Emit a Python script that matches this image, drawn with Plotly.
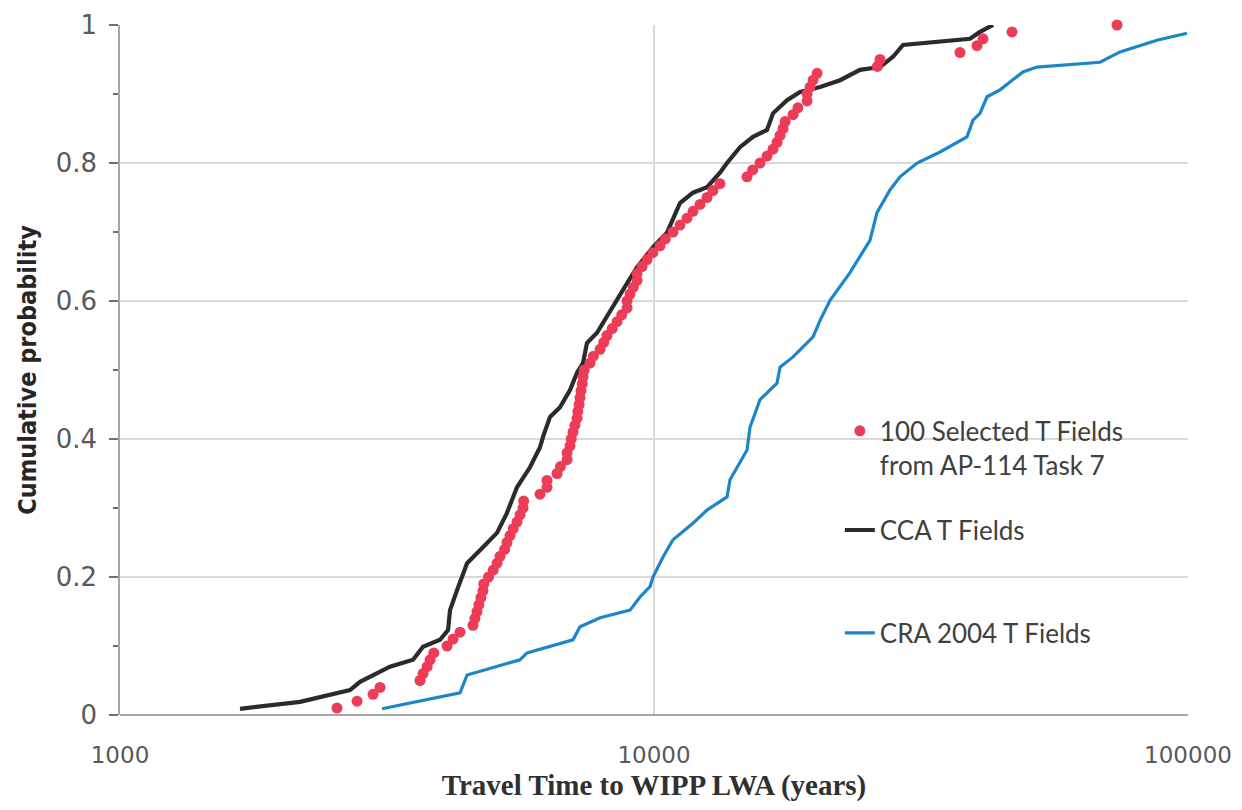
import plotly.graph_objects as go

# ---- data ----
cca_time = [1678, 2173, 2696, 2815, 3203, 3538, 3694, 3975, 4114, 4150, 4277, 4466,
            4783, 5082, 5305, 5539, 5858, 6117, 6197, 6387, 6668, 6962, 7175, 7362,
            7490, 7822, 8750, 9294, 9957, 10576, 11186, 11830, 12571, 13291, 13701,
            14488, 15325, 16280, 16706, 17749, 18771, 20466, 22306, 24306, 26496,
            28027, 29263, 32877, 39063, 40786, 43143]
cca_prob = [0.009, 0.019, 0.036, 0.048, 0.070, 0.080, 0.099, 0.109, 0.123, 0.152, 0.181, 0.220,
            0.243, 0.264, 0.293, 0.330, 0.359, 0.388, 0.403, 0.432, 0.446, 0.471, 0.496, 0.510,
            0.539, 0.554, 0.616, 0.649, 0.678, 0.699, 0.742, 0.757, 0.765, 0.786, 0.800,
            0.823, 0.838, 0.848, 0.872, 0.891, 0.903, 0.910, 0.920, 0.935, 0.939,
            0.954, 0.971, 0.975, 0.980, 0.990, 1.000]

cra_time = [3095, 4333, 4466, 5148, 5611, 5783, 7053, 7268, 7924, 9020, 9415, 9829, 9957,
            10396, 10854, 11830, 12571, 13701, 13879, 14935, 15128, 15795, 16996, 17219,
            18212, 19855, 20466, 21368, 23282, 25376, 26155, 27664, 28886, 31087, 34328,
            38557, 39570, 40786, 42042, 44460, 49090, 52130, 68420, 74600, 87480, 99560]
cra_prob = [0.009, 0.032, 0.058, 0.072, 0.080, 0.090, 0.109, 0.128, 0.141, 0.152, 0.171, 0.186, 0.200,
            0.229, 0.254, 0.278, 0.297, 0.316, 0.341, 0.384, 0.417, 0.457, 0.481, 0.504,
            0.519, 0.548, 0.572, 0.601, 0.641, 0.688, 0.728, 0.761, 0.780, 0.800, 0.816,
            0.838, 0.862, 0.872, 0.896, 0.906, 0.932, 0.939, 0.946, 0.961, 0.978, 0.988]

sel_time = [2549, 2779, 2977, 3069, 3646, 3694, 3760, 3807, 3870, 4097,
            4204, 4333, 4581, 4620, 4661, 4700, 4740, 4783, 4800, 4900,
            5000, 5082, 5148, 5250, 5305, 5374, 5450, 5539, 5611, 5685,
            5700, 6117, 6304, 6304, 6583, 6680, 6873, 6873, 6962, 7000,
            7053, 7110, 7175, 7200, 7240, 7268, 7300, 7340, 7362, 7400,
            7588, 7700, 7924, 8050, 8166, 8350, 8526, 8700, 8903, 8903,
            9020, 9150, 9294, 9294, 9500, 9703, 9950, 10262, 10500, 10854,
            11186, 11529, 11830, 12194, 12571, 12891, 13291, 14935, 15300, 15795,
            16280, 16706, 17000, 17219, 17444, 17600, 18212, 18600, 19347, 19347,
            19600, 19855, 20200, 26200, 26500, 37411, 40260, 41317, 46810, 73620]
sel_prob = [0.01, 0.02, 0.03, 0.04, 0.05, 0.06, 0.07, 0.08, 0.09, 0.10,
            0.11, 0.12, 0.13, 0.14, 0.15, 0.16, 0.17, 0.18, 0.19, 0.20,
            0.21, 0.22, 0.23, 0.24, 0.25, 0.26, 0.27, 0.28, 0.29, 0.30,
            0.31, 0.32, 0.33, 0.34, 0.35, 0.36, 0.37, 0.38, 0.39, 0.40,
            0.41, 0.42, 0.43, 0.44, 0.45, 0.46, 0.47, 0.48, 0.49, 0.50,
            0.51, 0.52, 0.53, 0.54, 0.55, 0.56, 0.57, 0.58, 0.59, 0.60,
            0.61, 0.62, 0.63, 0.64, 0.65, 0.66, 0.67, 0.68, 0.69, 0.70,
            0.71, 0.72, 0.73, 0.74, 0.75, 0.76, 0.77, 0.78, 0.79, 0.80,
            0.81, 0.82, 0.83, 0.84, 0.85, 0.86, 0.87, 0.88, 0.89, 0.90,
            0.91, 0.92, 0.93, 0.94, 0.95, 0.96, 0.97, 0.98, 0.99, 1.00]

x_ticks = [1000, 10000, 100000]
x_tick_labels = ["1000", "10000", "100000"]
y_ticks = [0, 0.2, 0.4, 0.6, 0.8, 1]
y_tick_labels = ["0", "0.2", "0.4", "0.6", "0.8", "1"]

names = ["100 Selected T Fields<br>from AP-114 Task 7", "CCA T Fields", "CRA 2004 T Fields"]

# ---- figure ----
fig = go.Figure()
fig.add_trace(go.Scatter(x=cra_time, y=cra_prob, mode="lines", name=names[2],
                         line=dict(color="#1C86C9", width=3.2), cliponaxis=False,
                         legend="legend3", showlegend=True))
fig.add_trace(go.Scatter(x=cca_time, y=cca_prob, mode="lines", name=names[1],
                         line=dict(color="#2B2B2B", width=4.2), cliponaxis=False,
                         legend="legend2", showlegend=True))
fig.add_trace(go.Scatter(x=sel_time, y=sel_prob, mode="markers", name=names[0],
                         marker=dict(color="#EC3C57", size=11), cliponaxis=False,
                         legend="legend", showlegend=True))

legend_font = dict(family="Lato, Carlito, Calibri, sans-serif", size=26, color="#404040")
leg_common = dict(xanchor="left", yanchor="middle", bgcolor="rgba(0,0,0,0)",
                  font=legend_font, itemwidth=30)

fig.update_layout(
    width=1226, height=794,
    margin=dict(l=112, r=46, t=17, b=87),
    paper_bgcolor="white", plot_bgcolor="white",
    showlegend=True,
    legend=dict(x=0.674, y=0.387, valign="top", **leg_common),
    legend2=dict(x=0.674, y=0.268, **leg_common),
    legend3=dict(x=0.674, y=0.119, **leg_common),
    shapes=[dict(type="rect", xref="paper", yref="paper", x0=0.627, x1=0.998,
                 y0=0.022, y1=0.464, fillcolor="white", line=dict(width=0),
                 layer="between")],
)

fig.update_xaxes(
    type="log", range=[3, 5], automargin=False,
    tickvals=x_ticks, ticktext=x_tick_labels,
    showgrid=True, gridcolor="#D9D9D9", gridwidth=1.5,
    showline=False, zeroline=False, ticks="",
    tickfont=dict(family="DejaVu Sans, Verdana, sans-serif", size=23, color="#595959"),
    ticklabelstandoff=24,
    title=dict(text="<b>Travel Time to WIPP LWA (years)</b>",
               font=dict(family="Liberation Serif, Times New Roman, serif", size=29, color="#303030"),
               standoff=20),
)
fig.update_yaxes(
    range=[0, 1], automargin=False,
    tickvals=y_ticks, ticktext=y_tick_labels,
    showgrid=True, gridcolor="#D9D9D9", gridwidth=1.5,
    showline=True, linecolor="#A6A6A6", linewidth=1.5,
    zeroline=True, zerolinecolor="#A6A6A6", zerolinewidth=1.5,
    ticks="outside", ticklen=9, tickcolor="#707070", tickwidth=1.5,
    minor=dict(dtick=0.1, ticks="outside", ticklen=5, tickcolor="#707070", showgrid=False),
    tickfont=dict(family="DejaVu Sans, Verdana, sans-serif", size=26, color="#595959"),
    ticklabelstandoff=7,
    title=dict(text="<b>Cumulative probability</b>",
               font=dict(family="DejaVu Sans Condensed, Liberation Sans Narrow, Arial Narrow, sans-serif",
                         size=25, color="#262626"),
               standoff=12),
)

fig.write_html("out.html")
